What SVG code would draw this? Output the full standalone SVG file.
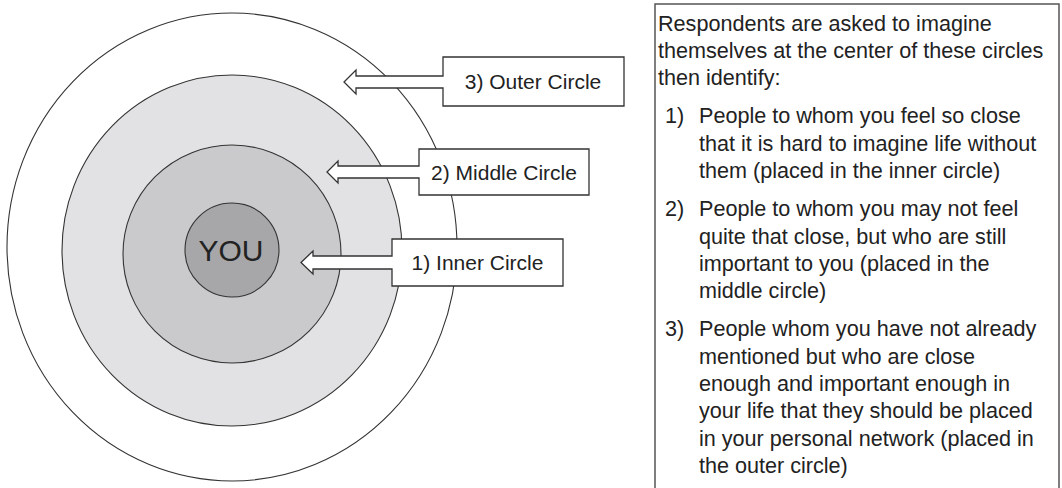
<svg xmlns="http://www.w3.org/2000/svg" width="1062" height="488" viewBox="0 0 1062 488">
<style>
.ring{stroke:#333;stroke-width:1.1}
.call{fill:#fff;stroke:#333;stroke-width:1.3;stroke-linejoin:miter}
.lbl{font-family:"Liberation Sans",Arial,sans-serif;font-size:21px;fill:#222;text-anchor:middle}
.body{font-family:"Liberation Sans",Arial,sans-serif;font-size:21.6px;fill:#222}
</style>
<rect width="1062" height="488" fill="#fff"/>
<g id="circles">
<ellipse id="outer-circle" class="ring" cx="232" cy="247" rx="225" ry="234" fill="#fff"/>
<ellipse id="middle-circle" class="ring" cx="232" cy="250.5" rx="170" ry="175.5" fill="#e2e2e4"/>
<ellipse id="inner-circle" class="ring" cx="232" cy="254" rx="109" ry="109" fill="#cacacc"/>
<g id="you">
<circle class="ring" cx="232" cy="250" r="47" fill="#a7a7a9"/>
<text x="231" y="261" font-family="Liberation Sans, Arial, sans-serif" font-size="30" fill="#222" text-anchor="middle">YOU</text>
</g>
</g>
<g id="connectors">
<path id="arrow-outer" class="call" d="M443,57 H624 V106 H443 V88 H356 V94 L344,82 L356,70 V76 H443 Z"/>
<path id="arrow-middle" class="call" d="M419,149 H589 V195 H419 V178 H338 V183 L327,172 L338,161 V166 H419 Z"/>
<path id="arrow-inner" class="call" d="M392,239 H563 V286 H392 V269 H313 V274 L301,262.5 L313,251 V256 H392 Z"/>
</g>
<g id="label-outer"><text class="lbl" x="533" y="89">3) Outer Circle</text></g>
<g id="label-middle"><text class="lbl" x="504" y="180">2) Middle Circle</text></g>
<g id="label-inner"><text class="lbl" x="477.5" y="270">1) Inner Circle</text></g>
<g id="instructions">
<rect x="655" y="4" width="404" height="492" fill="#fff" stroke="#555" stroke-width="1.5"/>
<text class="body">
<tspan x="658" y="31">Respondents are asked to imagine</tspan>
<tspan x="658" y="58">themselves at the center of these circles</tspan>
<tspan x="658" y="85">then identify:</tspan>
<tspan x="665" y="123">1)</tspan><tspan x="699" y="123">People to whom you feel so close</tspan>
<tspan x="699" y="151">that it is hard to imagine life without</tspan>
<tspan x="699" y="178">them (placed in the inner circle)</tspan>
<tspan x="665" y="216">2)</tspan><tspan x="699" y="216">People to whom you may not feel</tspan>
<tspan x="699" y="244">quite that close, but who are still</tspan>
<tspan x="699" y="271">important to you (placed in the</tspan>
<tspan x="699" y="298">middle circle)</tspan>
<tspan x="665" y="336">3)</tspan><tspan x="699" y="336">People whom you have not already</tspan>
<tspan x="699" y="364">mentioned but who are close</tspan>
<tspan x="699" y="391">enough and important enough in</tspan>
<tspan x="699" y="418">your life that they should be placed</tspan>
<tspan x="699" y="446">in your personal network (placed in</tspan>
<tspan x="699" y="473">the outer circle)</tspan>
</text>
</g>
</svg>
